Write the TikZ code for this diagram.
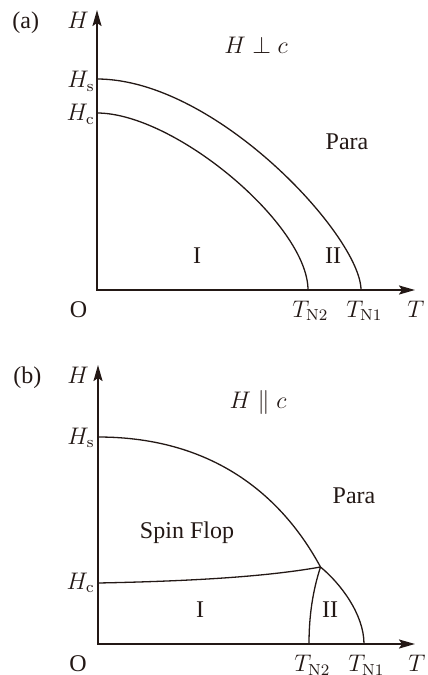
\documentclass[tikz,border=0pt]{standalone}
\usepackage[no-math]{fontspec}
\setmainfont{Liberation Serif}
\usetikzlibrary{arrows.meta}
\definecolor{ink}{RGB}{35,24,21}
\begin{document}
\begin{tikzpicture}[x=0.5pt,y=-0.5pt,
  font=\fontsize{12}{14}\selectfont,
  every node/.style={inner sep=0pt,text=ink},
  axis/.style={draw=ink,line width=1pt,
    {Stealth[length=8pt,width=4.5pt,inset=1.5pt]}-{Stealth[length=8pt,width=4.5pt,inset=1.5pt]}},
  bound/.style={draw=ink,line width=0.65pt},
  lb/.style={anchor=base},
  lbw/.style={anchor=base west},
  lbe/.style={anchor=base east}]
\useasboundingbox (0,0) rectangle (428,675);

% ---------------- panel (a) ----------------
\coordinate (aO) at (97,290);
\coordinate (aY) at (97,10);
\coordinate (aX) at (415,290);
\draw[axis] (aY) -- (aO) -- (aX);
\coordinate (aHs) at (97,79);
\coordinate (aHc) at (97,113);
\coordinate (aTN1) at (361,290);
\coordinate (aTN2) at (308,290);
\draw[bound] (aHs) .. controls (216,79) and (361,237) .. (aTN1);
\draw[bound] (aHc) .. controls (175,113) and (308,225) .. (aTN2);

\node[lbw] (alab) at (12,28) {(a)};
\node[lbe] (aHlab) at (89,28) {$H$};
\node[lb] (acond) at (256,53) {$H\perp c$};
\node[lbe] (aHslab) at (95,87.5) {$H_{\mathrm{s}}$};
\node[lbe] (aHclab) at (95,120.5) {$H_{\mathrm{c}}$};
\node[lb] (apara) at (347,149) {Para};
\node[lb] (aI) at (197,263) {I};
\node[lb] (aII) at (333,263) {II};
\node[lb] (aOlab) at (78.5,317) {O};
\node[lbw] (aTN2lab) at (292,317) {$T_{\mathrm{N2}}$};
\node[lbw] (aTN1lab) at (346,317) {$T_{\mathrm{N1}}$};
\node[lbw] (aTlab) at (407,317) {$T$};

% ---------------- panel (b) ----------------
\coordinate (bO) at (98,644);
\coordinate (bY) at (98,365);
\coordinate (bX) at (415,644);
\draw[axis] (bY) -- (bO) -- (bX);
\coordinate (bHs) at (98,437);
\coordinate (bHc) at (98,583);
\coordinate (bTP) at (320.5,567);
\coordinate (bTN1) at (364,644);
\coordinate (bTN2) at (309,644);
\draw[bound] (bHs) .. controls (218,437) and (284.8,500.8) .. (bTP);
\draw[bound] (bTP) .. controls (340,583) and (364,614) .. (bTN1);
\draw[bound] (bHc) .. controls (200,581) and (270,576) .. (bTP);
\draw[bound] (bTP) .. controls (313,590) and (309,615) .. (bTN2);

\node[lbw] (blab) at (13,383) {(b)};
\node[lbe] (bHlab) at (89,383) {$H$};
\node[lb] (bcond) at (258,408) {$H\parallel c$};
\node[lbe] (bHslab) at (95,444) {$H_{\mathrm{s}}$};
\node[lbe] (bHclab) at (95,589) {$H_{\mathrm{c}}$};
\node[lb] (bpara) at (354,503) {Para};
\node[lb] (bsf) at (187,538) {Spin Flop};
\node[lb] (bI) at (200,617) {I};
\node[lb] (bII) at (330,617) {II};
\node[lb] (bOlab) at (78,671.5) {O};
\node[lbw] (bTN2lab) at (294,671.5) {$T_{\mathrm{N2}}$};
\node[lbw] (bTN1lab) at (348,671.5) {$T_{\mathrm{N1}}$};
\node[lbw] (bTlab) at (408,671.5) {$T$};
\end{tikzpicture}
\end{document}
